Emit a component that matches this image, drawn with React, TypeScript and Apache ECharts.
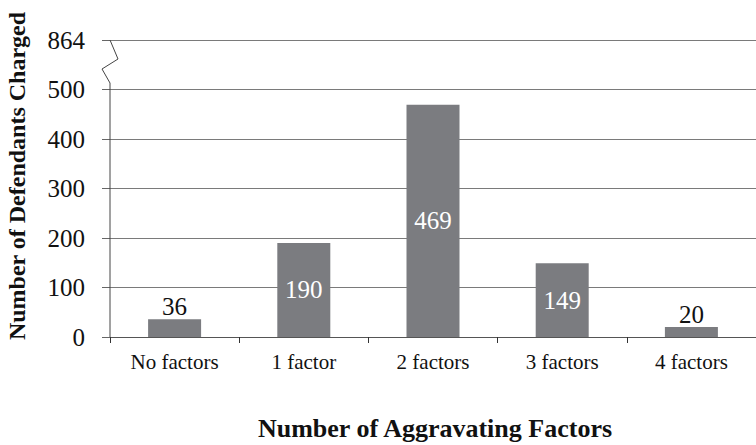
import React, { useEffect, useRef } from "react";
import * as echarts from "echarts";

const categories = ["No factors", "1 factor", "2 factors", "3 factors", "4 factors"];
const values = [36, 190, 469, 149, 20];
const insideLabel = [false, true, true, true, false];
const yTicks = [0, 100, 200, 300, 400, 500, 600];
const yTickLabels = ["0", "100", "200", "300", "400", "500", "864"];

const FONT = "Liberation Serif";

export default function App() {
  const ref = useRef<HTMLDivElement>(null);
  useEffect(() => {
    const chart = echarts.init(ref.current!, null, { renderer: "svg" });
    const labelFor = (v: number) => {
      const i = yTicks.indexOf(v);
      return i >= 0 ? yTickLabels[i] : "";
    };
    chart.setOption({
      animation: false,
      textStyle: { fontFamily: FONT },
      grid: { left: 110, top: 40, width: 651, bottom: 108, containLabel: false },
      xAxis: {
        type: "category",
        data: categories,
        axisLine: { lineStyle: { color: "#555", width: 1 } },
        axisTick: { show: true, length: 6, lineStyle: { color: "#333" } },
        axisLabel: { color: "#111", fontFamily: FONT, fontSize: 21, margin: 14 },
      },
      yAxis: {
        type: "value",
        min: 0,
        max: 600,
        interval: 100,
        axisLine: { show: false },
        axisTick: { show: true, length: 8, lineStyle: { color: "#666" } },
        splitLine: { lineStyle: { color: "#7a7a7a", width: 1 } },
        axisLabel: {
          color: "#111",
          fontFamily: FONT,
          fontSize: 25,
          margin: 25,
          formatter: (v: number) => labelFor(v),
        },
      },
      series: [
        {
          type: "bar",
          barWidth: 53,
          itemStyle: { color: "#7b7c80" },
          label: {
            show: true,
            fontFamily: FONT,
            fontSize: 25,
            fontWeight: "normal",
          },
          data: values.map((v, i) => ({
            value: v,
            label: insideLabel[i]
              ? { position: "inside", color: "#fff", fontFamily: FONT }
              : { position: "top", color: "#111", fontFamily: FONT, distance: 0 },
          })),
        },
      ],
      graphic: [
        {
          type: "polyline",
          shape: { points: [[110, 40], [118, 59], [102, 69], [110, 83], [110, 337]] },
          style: { stroke: "#444", lineWidth: 1, fill: null },
          z: 10,
        },
        {
          type: "text",
          x: 17,
          y: 176,
          rotation: Math.PI / 2,
          style: {
            text: "Number of Defendants Charged",
            fontFamily: FONT,
            fontWeight: "bold",
            fontSize: 24,
            fill: "#111",
            textAlign: "center",
            textVerticalAlign: "middle",
          },
        },
        {
          type: "text",
          x: 435,
          y: 428,
          style: {
            text: "Number of Aggravating Factors",
            fontFamily: FONT,
            fontWeight: "bold",
            fontSize: 26,
            fill: "#111",
            textAlign: "center",
            textVerticalAlign: "middle",
          },
        },
      ],
    });
    return () => chart.dispose();
  }, []);
  return (
    <div
      ref={ref}
      style={{ position: "absolute", left: 0, top: 0, width: 756, height: 445 }}
    />
  );
}
